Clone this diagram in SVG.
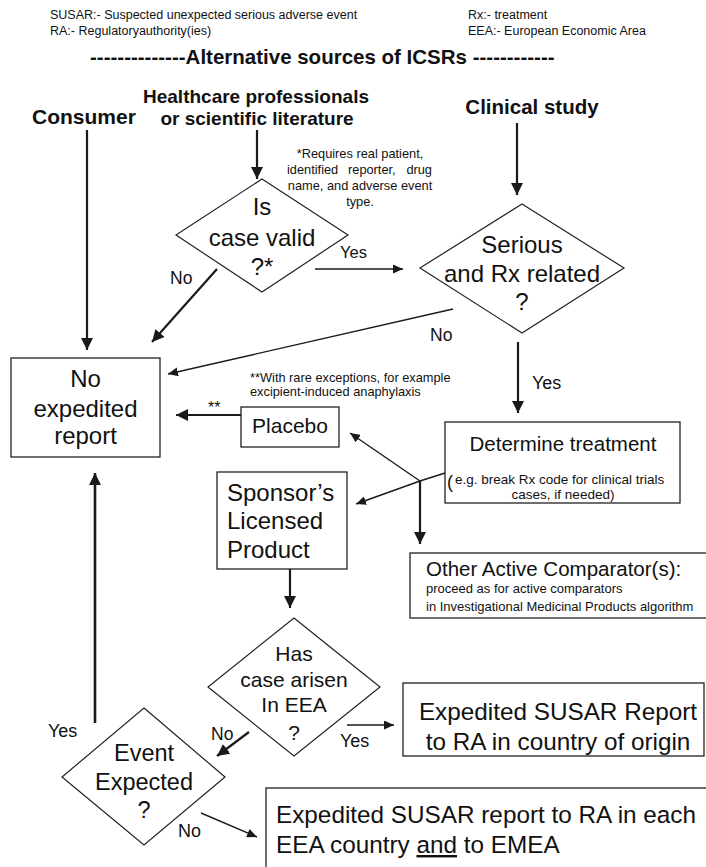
<svg xmlns="http://www.w3.org/2000/svg" width="706" height="867" viewBox="0 0 706 867">
  <style>
    text { font-family: "Liberation Sans", Arial, Helvetica, sans-serif; fill: #111; }
    .hdr { font-size: 12.5px; }
    .title { font-size: 20.5px; font-weight: bold; }
    .src { font-size: 20px; font-weight: bold; }
    .big { font-size: 24px; }
    .note { font-size: 12.8px; }
    .lbl { font-size: 17.5px; }
    .c { text-anchor: middle; }
    .box { fill: #fff; stroke: #222; stroke-width: 1.3; }
    .dia { fill: #fff; stroke: #222; stroke-width: 1.2; }
    .thick { stroke: #1a1a1a; stroke-width: 2.2; fill: none; marker-end: url(#ahBig); }
    .thin { stroke: #1a1a1a; stroke-width: 1.4; fill: none; marker-end: url(#ahSmall); }
  </style>
  <defs>
    <marker id="ahBig" viewBox="0 0 12 12" markerWidth="12" markerHeight="12" refX="12" refY="6" orient="auto" markerUnits="userSpaceOnUse">
      <path d="M0,0 L12,6 L0,12 z" fill="#1a1a1a"/>
    </marker>
    <marker id="ahSmall" viewBox="0 0 10 9" markerWidth="10" markerHeight="9" refX="10" refY="4.5" orient="auto" markerUnits="userSpaceOnUse">
      <path d="M0,0 L10,4.5 L0,9 z" fill="#1a1a1a"/>
    </marker>
  </defs>

  <rect width="706" height="867" fill="#fff"/>

  <!-- abbreviations legend -->
  <g id="legend">
    <text class="hdr" x="50" y="19">SUSAR:- Suspected unexpected serious adverse event</text>
    <text class="hdr" x="50" y="35">RA:- Regulatoryauthority(ies)</text>
    <text class="hdr" x="468" y="19">Rx:- treatment</text>
    <text class="hdr" x="468" y="35">EEA:- European Economic Area</text>
  </g>
  <text id="title" class="title" x="90" y="64">--------------Alternative sources of ICSRs ------------</text>

  <!-- sources -->
  <g id="src-consumer"><text class="src" x="32" y="124" style="font-size:21px">Consumer</text></g>
  <g id="src-hcp">
    <text class="src c" x="256" y="103" style="font-size:19px">Healthcare professionals</text>
    <text class="src c" x="257" y="125" style="font-size:19px">or scientific literature</text>
  </g>
  <g id="src-clinical"><text class="src c" x="532" y="114" style="font-size:20.5px">Clinical study</text></g>

  <!-- footnotes -->
  <g id="note-valid">
    <text class="note c" x="360" y="158">*Requires real patient,</text>
    <text class="note" x="287" y="174">identified</text>
    <text class="note" x="348" y="174">reporter,</text>
    <text class="note" x="432" y="174" text-anchor="end">drug</text>
    <text class="note c" x="360" y="190">name, and adverse event</text>
    <text class="note c" x="360" y="206">type.</text>
  </g>
  <g id="note-placebo">
    <text class="note" x="250" y="382">**With rare exceptions, for example</text>
    <text class="note" x="250" y="396">excipient-induced anaphylaxis</text>
  </g>

  <!-- decision: case valid -->
  <g id="dec-valid">
    <polygon class="dia" points="262,179 348,235 262,292 176,235"/>
    <text class="big c" x="262" y="215">Is</text>
    <text class="big c" x="262" y="246">case valid</text>
    <text class="big c" x="262" y="275">?*</text>
  </g>

  <!-- decision: serious and related -->
  <g id="dec-serious">
    <polygon class="dia" points="522,204 624,268 522,333 420,268"/>
    <text class="big c" x="522" y="253">Serious</text>
    <text class="big c" x="522" y="282">and Rx related</text>
    <text class="big c" x="522" y="310">?</text>
  </g>

  <!-- outcome: no expedited report -->
  <g id="no-report">
    <rect class="box" x="11" y="358" width="149" height="99"/>
    <text class="big c" x="85.5" y="387">No</text>
    <text class="big c" x="85.5" y="417">expedited</text>
    <text class="big c" x="85.5" y="444">report</text>
  </g>

  <g id="placebo">
    <rect class="box" x="241" y="407" width="98" height="40"/>
    <text class="c" x="290" y="433" style="font-size:21px">Placebo</text>
  </g>

  <g id="determine">
    <rect class="box" x="445" y="422" width="235" height="81"/>
    <text class="c" x="563" y="451" style="font-size:20.5px">Determine treatment</text>
    <text x="447" y="488" style="font-size:18px">(</text>
    <text x="455" y="484" style="font-size:13.5px">e.g. break Rx code for clinical trials</text>
    <text class="c" x="563" y="499" style="font-size:13.5px">cases, if needed)</text>
  </g>

  <g id="sponsor">
    <rect class="box" x="217" y="472" width="130" height="97"/>
    <text class="big" x="227" y="501">Sponsor’s</text>
    <text class="big" x="227" y="529">Licensed</text>
    <text class="big" x="227" y="558">Product</text>
  </g>

  <g id="comparator">
    <rect class="box" x="410" y="553" width="310" height="65"/>
    <text x="426" y="576" style="font-size:20.5px">Other Active Comparator(s):</text>
    <text x="426" y="593" style="font-size:13px">proceed as for active comparators</text>
    <text x="426" y="611" style="font-size:13px">in Investigational Medicinal Products algorithm</text>
  </g>

  <g id="dec-eea">
    <polygon class="dia" points="294,618 380,687 294,756 208,687"/>
    <text class="c" x="294" y="661" style="font-size:21px">Has</text>
    <text class="c" x="294" y="687" style="font-size:21px">case arisen</text>
    <text class="c" x="294" y="712" style="font-size:21px">In EEA</text>
    <text class="c" x="294" y="740" style="font-size:21px">?</text>
  </g>

  <g id="report-origin">
    <rect class="box" x="403" y="683" width="301" height="73"/>
    <text class="c" x="558" y="720" style="font-size:24.3px">Expedited SUSAR Report</text>
    <text class="c" x="558" y="750" style="font-size:24.3px">to RA in country of origin</text>
  </g>

  <g id="dec-expected">
    <polygon class="dia" points="144,708 225,777 144,845 62,777"/>
    <text class="c" x="144" y="761" style="font-size:23.5px">Event</text>
    <text class="c" x="144" y="790" style="font-size:23.5px">Expected</text>
    <text class="c" x="144" y="818" style="font-size:23.5px">?</text>
  </g>

  <g id="report-eea">
    <rect class="box" x="266" y="788" width="460" height="100"/>
    <text x="276" y="823" style="font-size:24.3px">Expedited SUSAR report to RA in each</text>
    <text x="276" y="853" style="font-size:24.3px">EEA country <tspan style="text-decoration:underline">and</tspan> to EMEA</text>
  </g>

  <!-- connectors -->
  <g id="connectors">
    <line class="thick" x1="87" y1="130" x2="87" y2="350"/>
    <line class="thick" x1="257" y1="130" x2="257" y2="179"/>
    <line class="thin" x1="315" y1="269" x2="403" y2="269"/>
    <line class="thick" x1="217" y1="269" x2="152" y2="342"/>
    <line class="thick" x1="517" y1="123" x2="517" y2="195"/>
    <line class="thin" x1="453" y1="309" x2="168" y2="374"/>
    <line class="thick" x1="518" y1="342" x2="518" y2="413"/>
    <line stroke="#1a1a1a" stroke-width="1.4" x1="445" y1="473" x2="420" y2="481"/>
    <line class="thin" x1="420" y1="481" x2="350" y2="433"/>
    <line class="thin" x1="420" y1="481" x2="356" y2="504"/>
    <line class="thick" x1="420" y1="481" x2="420" y2="544"/>
    <line class="thick" x1="241" y1="415" x2="176" y2="415"/>
    <line class="thick" x1="290" y1="569" x2="290" y2="608"/>
    <line class="thin" x1="347" y1="725" x2="394" y2="725"/>
    <line class="thick" x1="249" y1="732" x2="217" y2="756"/>
    <line class="thick" x1="95" y1="723" x2="95" y2="473" style="stroke-width:2.6"/>
    <line class="thin" x1="201" y1="813" x2="257" y2="837"/>
  </g>

  <!-- connector labels -->
  <g id="labels">
    <text class="lbl" x="170" y="284">No</text>
    <text class="lbl" x="340" y="258" style="font-size:16.5px">Yes</text>
    <text class="lbl" x="430" y="341">No</text>
    <text class="lbl" x="532" y="389" style="font-size:18px">Yes</text>
    <text class="lbl" x="208" y="413" style="font-size:16px">**</text>
    <text class="lbl" x="48" y="737" style="font-size:18px">Yes</text>
    <text class="lbl" x="211" y="740">No</text>
    <text class="lbl" x="340" y="747" style="font-size:18px">Yes</text>
    <text class="lbl" x="178" y="837" style="font-size:18px">No</text>
  </g>
</svg>
